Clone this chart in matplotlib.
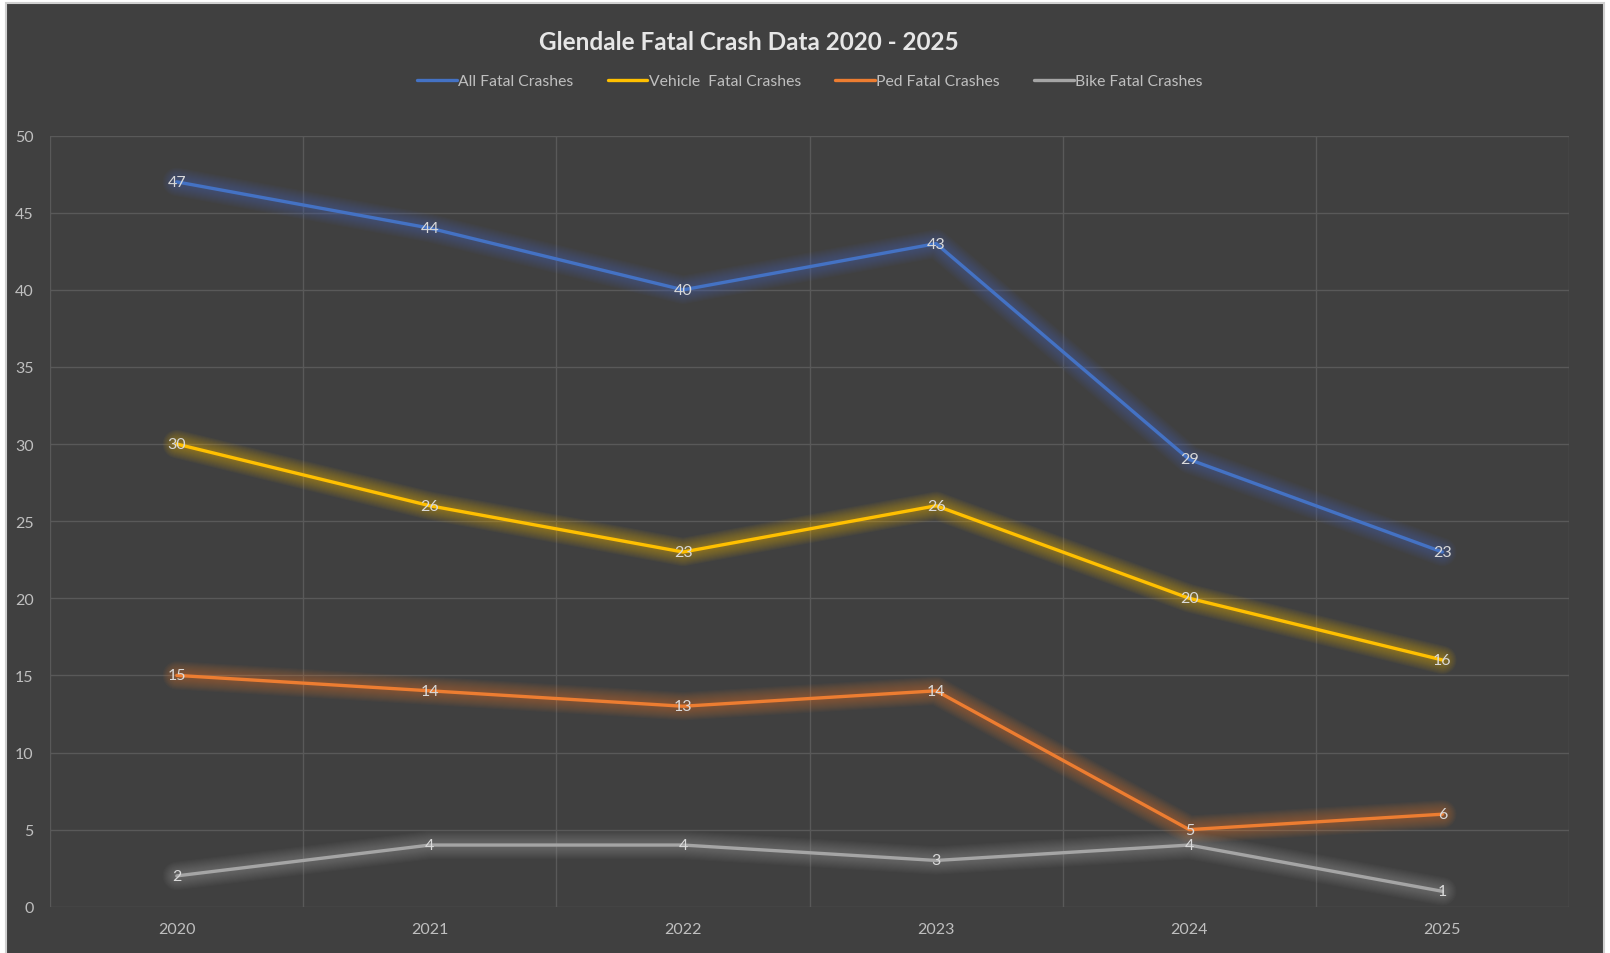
import matplotlib.pyplot as plt
from matplotlib.patches import Rectangle

years = ['2020', '2021', '2022', '2023', '2024', '2025']
all_fatal = [47, 44, 40, 43, 29, 23]
vehicle_fatal = [30, 26, 23, 26, 20, 16]
ped_fatal = [15, 14, 13, 14, 5, 6]
bike_fatal = [2, 4, 4, 3, 4, 1]

series = [
    ('All Fatal Crashes', all_fatal, '#4472C4'),
    ('Vehicle  Fatal Crashes', vehicle_fatal, '#FFC000'),
    ('Ped Fatal Crashes', ped_fatal, '#ED7D31'),
    ('Bike Fatal Crashes', bike_fatal, '#A5A5A5'),
]

bg = '#404040'
plt.rcParams['font.family'] = ['Lato', 'DejaVu Sans']

fig = plt.figure(figsize=(16.1, 9.54), dpi=100)
fig.patch.set_facecolor('white')
# chart area frame
fig.patches.append(Rectangle((6 / 1610, -0.01), 1598 / 1610, 1 - 4 / 954 + 0.01,
                             transform=fig.transFigure, facecolor=bg,
                             edgecolor='#D0D0D0', linewidth=1.5, zorder=-10))

ax = fig.add_axes([0.0312, 0.0485, 0.9433, 0.8083])
ax.set_facecolor(bg)
ax.set_zorder(1)

x = list(range(len(years)))
handles = []
for name, vals, col in series:
    # soft glow under the line
    for k in range(12, 0, -1):
        ax.plot(x, vals, color=col, linewidth=2.4 + k * 1.5, alpha=0.04,
                solid_capstyle='round', solid_joinstyle='round', zorder=2)
    h, = ax.plot(x, vals, color=col, linewidth=2.4, label=name,
                 solid_capstyle='round', zorder=3)
    handles.append(h)
    for xi, v in zip(x, vals):
        ax.text(xi, v, str(v), color='#D9D9D9', fontsize=11.5,
                ha='center', va='center', zorder=4)

ax.set_xlim(-0.5, len(years) - 0.5)
ax.set_ylim(0, 50)
ax.set_yticks(range(0, 51, 5))
ax.set_xticks(x)
ax.set_xticklabels(years)
ax.set_xticks([i - 0.5 for i in range(len(years) + 1)], minor=True)
ax.grid(True, which='major', axis='y', color='#595959', linewidth=1)
ax.grid(True, which='minor', axis='x', color='#595959', linewidth=1)
ax.set_axisbelow(True)
ax.tick_params(which='both', length=0, colors='#BFBFBF', labelsize=11.5)
ax.tick_params(axis='x', pad=11)
ax.tick_params(axis='y', pad=12)
for s in ax.spines.values():
    s.set_visible(False)

fig.text(749 / 1610, 1 - 42 / 954, 'Glendale Fatal Crash Data 2020 - 2025',
         ha='center', va='center', fontsize=17.5, fontweight='bold', color='#E6E6E6')

fig.legend(handles=handles, loc='center', bbox_to_anchor=(810 / 1610, 1 - 82 / 954),
           ncol=4, frameon=False, fontsize=11.3, labelcolor='#BFBFBF',
           handlelength=2.5, handletextpad=0.1, columnspacing=2.2)

fig.savefig('out.png', dpi=100, facecolor=fig.get_facecolor())
